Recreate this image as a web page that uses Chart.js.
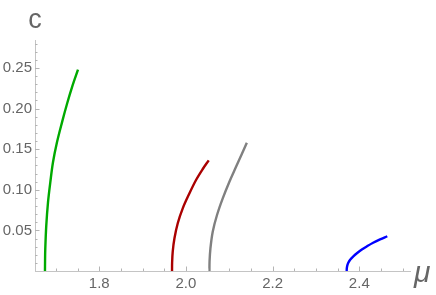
<!DOCTYPE html>
<html>
<head>
<meta charset="utf-8">
<script src="https://cdn.jsdelivr.net/npm/chart.js@4.4.0/dist/chart.umd.min.js"></script>
<style>
html,body{margin:0;padding:0;background:#fff;}
#wrap{width:436px;height:295px;position:relative;}
</style>
</head>
<body>
<div id="wrap"><canvas id="c"></canvas></div>
<script>
// ---- data ----
const greenMu = [1.6747, 1.6749, 1.6754, 1.6777, 1.6817, 1.6870, 1.6932, 1.7024, 1.7140, 1.7255, 1.7370, 1.7509];
const greenC  = [0, 0.012, 0.0271, 0.0559, 0.0846, 0.1092, 0.1339, 0.1585, 0.1831, 0.2057, 0.2262, 0.248];
const redMu   = [1.9679, 1.9681, 1.9695, 1.9735, 1.9811, 1.9926, 2.0081, 2.0233, 2.0388, 2.0526];
const redC    = [0, 0.010, 0.0238, 0.0403, 0.0588, 0.0772, 0.0957, 0.1121, 0.1256, 0.1363];
const grayMu  = [2.0542, 2.0545, 2.0565, 2.0618, 2.0717, 2.0849, 2.1003, 2.1156, 2.1287, 2.1405];
const grayC   = [0, 0.012, 0.0279, 0.0484, 0.0690, 0.0895, 0.1100, 0.1283, 0.1438, 0.1580];
const blueMu  = [2.3709, 2.3712, 2.3724, 2.3749, 2.3789, 2.3862, 2.3959, 2.4059, 2.4179, 2.4319, 2.4479, 2.4646];
const blueC   = [0, 0.0035, 0.007, 0.0105, 0.014, 0.0180, 0.0225, 0.0265, 0.0305, 0.0348, 0.039, 0.0428];

const xTickLabels = [1.8, 2.0, 2.2, 2.4];
const yTickLabels = [0.05, 0.10, 0.15, 0.20, 0.25];
const xMinorStep = 0.05;
const yMinorStep = 0.01;
const xTitle = 'μ';
const yTitle = 'c';

const pts = (xs, ys) => xs.map((x, i) => ({x: x, y: ys[i]}));

const axisColor = '#c4c4c4';
const tickColor = '#b4b4b4';
const labelColor = '#666666';
const font = '"Liberation Sans", Arial, sans-serif';

const ticksPlugin = {
  id: 'mmaTicks',
  afterDatasetsDraw(chart) {
    const ctx = chart.ctx;
    const xs = chart.scales.x, ys = chart.scales.y;
    const area = chart.chartArea;
    ctx.save();
    ctx.strokeStyle = tickColor;
    ctx.lineWidth = 1;
    const x0 = Math.ceil(xs.min / xMinorStep - 1e-9);
    const x1 = Math.floor(xs.max / xMinorStep + 1e-9);
    for (let k = x0; k <= x1; k++) {
      const v = k * xMinorStep;
      const major = xTickLabels.some(t => Math.abs(t - v) < 1e-6);
      const px = Math.round(xs.getPixelForValue(v)) + 0.5;
      const len = major ? 4.5 : 2.5;
      ctx.beginPath();
      ctx.moveTo(px, area.bottom);
      ctx.lineTo(px, area.bottom - len);
      ctx.stroke();
    }
    const y0 = Math.ceil(ys.min / yMinorStep - 1e-9);
    const y1 = Math.floor(ys.max / yMinorStep + 1e-9);
    for (let k = y0 + 1; k <= y1; k++) {
      const v = k * yMinorStep;
      const major = yTickLabels.some(t => Math.abs(t - v) < 1e-6);
      const py = Math.round(ys.getPixelForValue(v)) + 0.5;
      const len = major ? 4.5 : 2.5;
      ctx.beginPath();
      ctx.moveTo(area.left, py);
      ctx.lineTo(area.left + len, py);
      ctx.stroke();
    }
    ctx.fillStyle = labelColor;
    ctx.textAlign = 'center';
    ctx.textBaseline = 'alphabetic';
    ctx.font = '27px ' + font;
    ctx.fillText(yTitle, area.left, 28);
    ctx.font = 'italic 30px ' + font;
    ctx.textAlign = 'left';
    ctx.fillText(xTitle, area.right + 4, 282);
    ctx.restore();
  }
};

const ds = (data, color) => ({
  data: data,
  borderColor: color,
  borderWidth: 2.4,
  showLine: true,
  pointRadius: 0,
  fill: false,
  tension: 0.35
});

new Chart(document.getElementById('c'), {
  type: 'scatter',
  data: {
    datasets: [
      ds(pts(greenMu, greenC), 'rgb(0,170,0)'),
      ds(pts(redMu, redC), 'rgb(170,0,0)'),
      ds(pts(grayMu, grayC), 'rgb(128,128,128)'),
      ds(pts(blueMu, blueC), 'rgb(0,0,255)')
    ]
  },
  options: {
    responsive: true,
    maintainAspectRatio: false,
    animation: false,
    layout: { padding: { top: 40, right: 26, left: 0, bottom: 0 } },
    plugins: { legend: { display: false }, tooltip: { enabled: false } },
    scales: {
      x: {
        type: 'linear',
        min: 1.6517,
        max: 2.517,
        grid: { display: false, drawTicks: false },
        border: { display: true, color: axisColor, width: 1 },
        afterBuildTicks: s => { s.ticks = xTickLabels.map(v => ({value: v})); },
        afterFit: s => { s.height = 24; },
        ticks: {
          color: labelColor,
          font: { family: font, size: 15 },
          padding: 4,
          maxRotation: 0,
          autoSkip: false,
          callback: v => Number(v).toFixed(1)
        }
      },
      y: {
        type: 'linear',
        min: 0,
        max: 0.2845,
        grid: { display: false, drawTicks: false },
        border: { display: true, color: axisColor, width: 1 },
        afterBuildTicks: s => { s.ticks = yTickLabels.map(v => ({value: v})); },
        afterFit: s => { s.width = 35; },
        ticks: {
          color: labelColor,
          font: { family: font, size: 15 },
          padding: 3,
          autoSkip: false,
          callback: v => Number(v).toFixed(2)
        }
      }
    }
  },
  plugins: [ticksPlugin]
});
</script>
</body>
</html>
